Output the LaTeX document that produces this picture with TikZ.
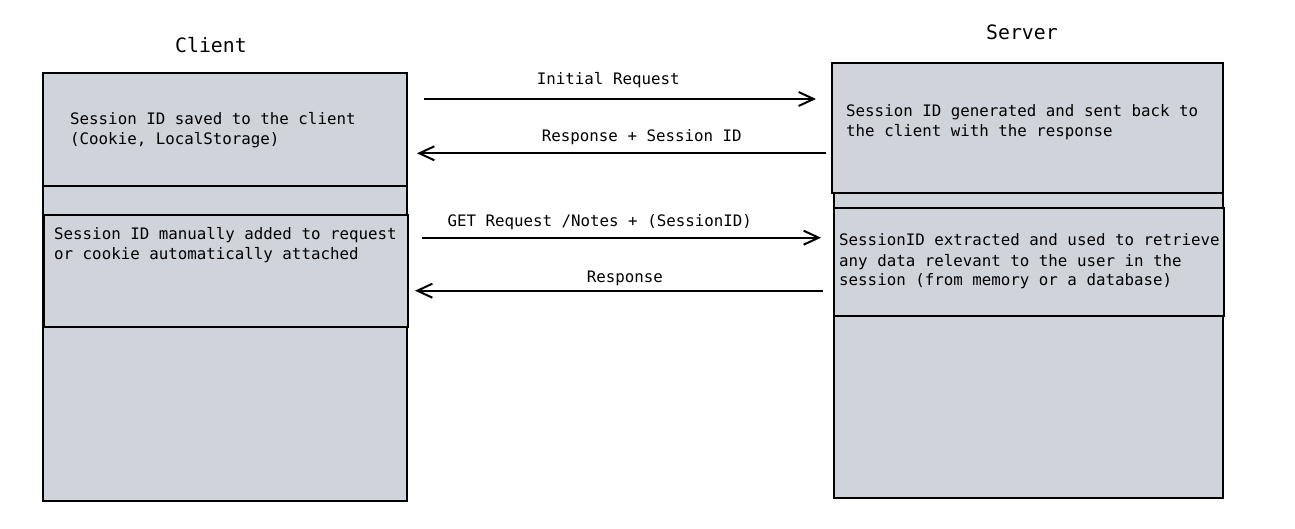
\documentclass[tikz,border=0pt]{standalone}
\usepackage{fontspec}
\setmonofont{DejaVu Sans Mono}
\usetikzlibrary{arrows.meta}
\definecolor{boxfill}{HTML}{CFD3DA}
\tikzset{
  x=1pt, y=-1pt,
  lane/.style={draw=black, fill=boxfill, line width=2pt, anchor=north west, inner sep=0pt},
  txt/.style={anchor=base west, inner sep=0pt, align=left, font=\ttfamily\fontsize{15.8}{20}\selectfont},
  ttl/.style={anchor=base west, inner sep=0pt, font=\ttfamily\fontsize{19.8}{24}\selectfont},
  msg/.style={line width=2pt, -{Straight Barb[length=15pt,width=14pt,line width=2pt]}},
}
\begin{document}
\begin{tikzpicture}
\useasboundingbox (0,0) rectangle (1295,529);
% client column
\node[lane, minimum width=364pt, minimum height=428pt] (cout) at (42,72) {};
\node[lane, minimum width=364pt, minimum height=113pt] (c1) at (42,72) {};
\node[lane, minimum width=364pt, minimum height=112pt] (c2) at (43,214) {};
% server column
\node[lane, minimum width=389pt, minimum height=435pt] (sout) at (833,62) {};
\node[lane, minimum width=391pt, minimum height=130pt] (s1) at (831,62) {};
\node[lane, minimum width=390pt, minimum height=108pt] (s2) at (833,207) {};
% titles
\node[ttl] (ct) at (175,53) {Client};
\node[ttl] (st) at (986,40) {Server};
% box texts (base anchor = baseline of the last line)
\node[txt] (c1t) at (70,145) {Session ID saved to the client\\(Cookie, LocalStorage)};
\node[txt] (c2t) at (54,260) {Session ID manually added to request\\or cookie automatically attached};
\node[txt] (s1t) at (846,136.7) {Session ID generated and sent back to\\the client with the response};
\node[txt] (s2t) at (839,286) {SessionID extracted and used to retrieve\\any data relevant to the user in the\\session (from memory or a database)};
% arrow endpoints
\coordinate (a1s) at (424,99);   \coordinate (a1e) at (816,99);
\coordinate (a2s) at (826,153.3);\coordinate (a2e) at (417,153.3);
\coordinate (a3s) at (422,237.7);\coordinate (a3e) at (821,237.7);
\coordinate (a4s) at (823,290.7);\coordinate (a4e) at (415,290.7);
\draw[msg] (a1s) -- (a1e);
\draw[msg] (a2s) -- (a2e);
\draw[msg] (a3s) -- (a3e);
\draw[msg] (a4s) -- (a4e);
% arrow labels
\node[txt] (l1) at (536.7,85) {Initial Request};
\node[txt] (l2) at (541.7,141.7) {Response + Session ID};
\node[txt] (l3) at (447.3,226.7) {GET Request /Notes + (SessionID)};
\node[txt] (l4) at (586.7,282.7) {Response};
\end{tikzpicture}
\end{document}
